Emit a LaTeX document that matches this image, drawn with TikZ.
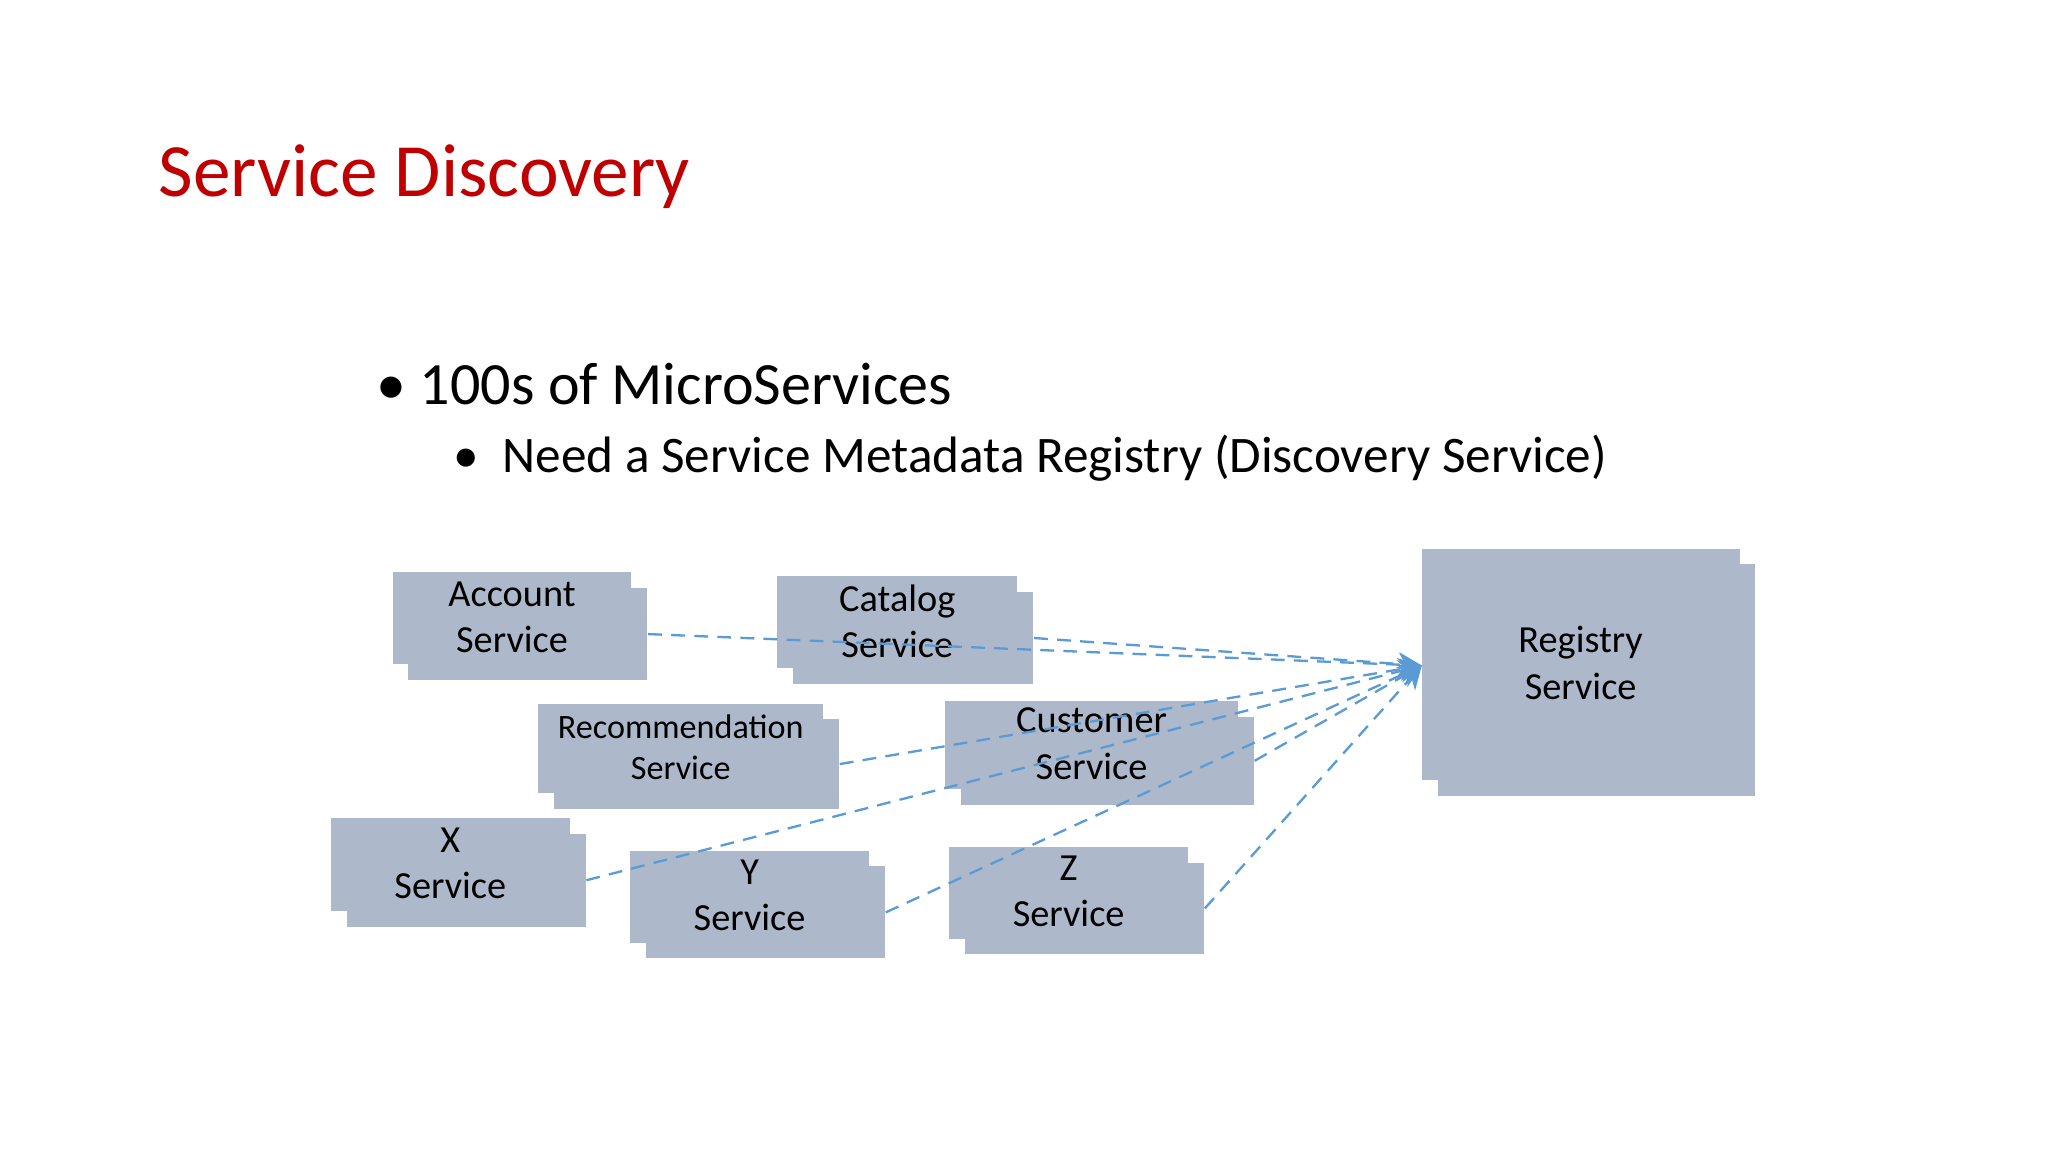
\documentclass[tikz,border=0pt]{standalone}
\usepackage{fontspec}
\setmainfont{Carlito}
\usetikzlibrary{arrows.meta}
\definecolor{boxfill}{HTML}{ADB9CA}
\definecolor{link}{HTML}{5B9BD5}
\definecolor{titlered}{HTML}{C00000}
\tikzset{
  box/.style={fill=boxfill, inner sep=0pt, draw=none},
  lbl/.style={align=center, font=\fontsize{8.3}{10}\selectfont},
  small/.style={align=center, font=\fontsize{7.4}{8.8}\selectfont},
  reg/.style={link, densely dashed, line width=0.5pt, -{Stealth[length=5pt,width=5pt]}}
}
% \svc{name}{x1}{y1}{x2}{y2}{label style}{label}: stacked box, back copy offset down-right
\newcommand{\svc}[7]{%
  \node[box, minimum width={(#4-#2)*0.01cm}, minimum height={(#5-#3)*0.01cm}]
    (#1-b) at ({(#2+#4)/2+12},{(#3+#5)/2+12}) {};
  \node[box, minimum width={(#4-#2)*0.01cm}, minimum height={(#5-#3)*0.01cm}]
    (#1) at ({(#2+#4)/2},{(#3+#5)/2}) {};
  \node[#6] (#1-t) at ({(#2+#4)/2},{(#3+#5)/2-1}) {#7};
}
\begin{document}
\begin{tikzpicture}[x=0.01cm, y=-0.01cm]
\useasboundingbox (0,0) rectangle (1560,877);
\fill[white] (0,0) rectangle (1560,877);

\node[anchor=base west, text=titlered, font=\fontsize{16.3}{20}\selectfont, inner sep=0pt]
  (title) at (120,150) {Service Discovery};
\node[anchor=base west, font=\fontsize{13}{16}\selectfont, inner sep=0pt]
  (b1) at (286,308) {\textbullet\ 100s of MicroServices};
\node[anchor=base west, font=\fontsize{11.1}{14}\selectfont, inner sep=0pt]
  (b2) at (345,360) {\textbullet\ \ Need a Service Metadata Registry (Discovery Service)};

\svc{acc}{299}{436}{481}{506}{lbl}{Account\\Service}
\svc{cat}{592}{439}{775}{509}{lbl}{Catalog\\Service}
\svc{rec}{410}{536}{627}{604}{small}{Recommendation\\Service}
\svc{cus}{720}{534}{943}{601}{lbl}{Customer\\Service}
\svc{x}{252}{623}{434}{694}{lbl}{X\\Service}
\svc{y}{480}{648}{662}{718}{lbl}{Y\\Service}
\svc{z}{723}{645}{905}{715}{lbl}{Z\\Service}
\svc{regs}{1083}{418}{1325}{594}{lbl}{Registry\\Service}

\coordinate (tip) at (1083,507);
\foreach \s in {acc,cat,rec,cus,x,y,z}
  \draw[reg] (\s-b.east) -- (tip);
\end{tikzpicture}
\end{document}
